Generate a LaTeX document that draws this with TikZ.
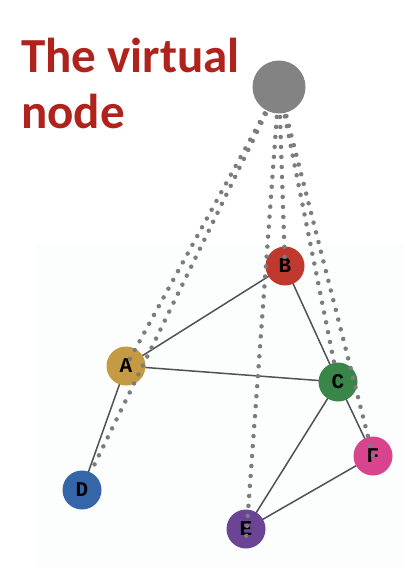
\documentclass[tikz,border=0pt]{standalone}
\usepackage{fontspec}
\setmainfont{Liberation Sans}
\setmonofont{Liberation Mono}
\newfontfamily\titlefont{Carlito}
\definecolor{titlered}{HTML}{B0231C}
\definecolor{vgray}{HTML}{838383}
\definecolor{dotgray}{HTML}{7C7C7C}
\definecolor{edgegray}{HTML}{505058}
\definecolor{cA}{HTML}{C49A42}
\definecolor{cB}{HTML}{C0392E}
\definecolor{cC}{HTML}{3A8649}
\definecolor{cD}{HTML}{3566AA}
\definecolor{cE}{HTML}{6C4495}
\definecolor{cF}{HTML}{D9448F}
\definecolor{faint}{HTML}{FCFDFD}
\pgfdeclarelayer{back}
\pgfdeclarelayer{front}
\pgfsetlayers{back,main,front}
\tikzset{
  gnode/.style={circle, inner sep=0pt, minimum size=39pt, text=black,
    font=\ttfamily\bfseries\fontsize{21}{21}\selectfont},
  gedge/.style={draw=edgegray, line width=1.5pt},
  vlink/.style={draw=dotgray, line width=4.5pt, line cap=round, dash pattern=on 0pt off 10pt},
  titletext/.style={text=titlered, font=\titlefont\bfseries\fontsize{49}{59}\selectfont, anchor=base west, inner sep=0pt}
}
\begin{document}
\begin{tikzpicture}[x=1pt,y=-1pt]
\useasboundingbox (0,0) rectangle (412,572);
\begin{pgfonlayer}{back}
  \fill[faint] (36,243) rectangle (404,568);
\end{pgfonlayer}
\node[titletext] (t1) at (21,73) {The virtual};
\node[titletext] (t2) at (21,129) {node};
% graph nodes
\node[gnode, fill=cA] (A) at (126,366) {A};
\node[gnode, fill=cB] (B) at (285,266) {B};
\node[gnode, fill=cC] (C) at (338,382) {C};
\node[gnode, fill=cD] (D) at (82,490) {D};
\node[gnode, fill=cE] (E) at (246,529) {E};
\node[gnode, fill=cF] (F) at (373,456) {F};
\begin{pgfonlayer}{front}
  \node[circle, fill=vgray, minimum size=53pt, inner sep=0pt] (V) at (279,87) {};
\end{pgfonlayer}
% edges
\begin{pgfonlayer}{back}
  \draw[gedge] (A.center) -- (B.center);
  \draw[gedge] (A.center) -- (C.center);
  \draw[gedge] (B.center) -- (C.center);
  \draw[gedge] (A.center) -- (D.center);
  \draw[gedge] (C.center) -- (E.center);
  \draw[gedge] (C.center) -- (F.center);
  \draw[gedge] (E.center) -- (F.center);
\end{pgfonlayer}
% virtual links
\draw[vlink] (V.center) -- (A.center);
\draw[vlink] (V.center) -- (D);
\draw[vlink] (V.center) -- (B.center);
\draw[vlink] (V.center) -- ([yshift=-10pt]E.center);
\draw[vlink] (V.center) -- (C);
\draw[vlink] (V.center) -- (F.center);
\end{tikzpicture}
\end{document}
